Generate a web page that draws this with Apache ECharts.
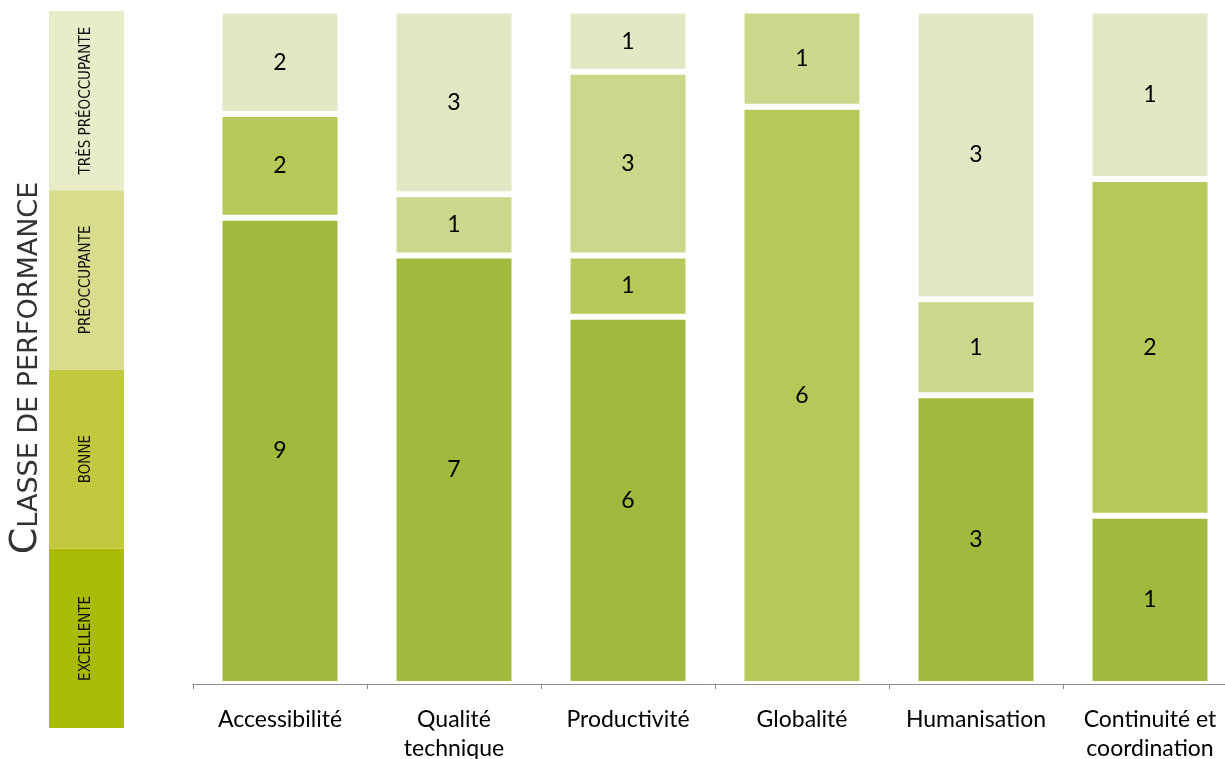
<!DOCTYPE html>
<html>
<head>
<meta charset="utf-8">
<script src="https://cdn.jsdelivr.net/npm/echarts@6/dist/echarts.min.js"></script>
<style>
  html, body { margin: 0; padding: 0; background: #fff; }
  #chart { width: 1225px; height: 759px; }
</style>
</head>
<body>
<div id="chart"></div>
<script>
// criteres evalues (axe des x)
const categories = ['Accessibilité', 'Qualité\ntechnique', 'Productivité', 'Globalité', 'Humanisation', 'Continuité et\ncoordination'];

// nombre d'indicateurs par classe de performance
const excellente = [9, 7, 6, 0, 3, 1];
const bonne = [2, 0, 1, 6, 0, 2];
const preoccupante = [0, 1, 3, 1, 1, 0];
const tresPreoccupante = [2, 3, 1, 0, 3, 1];

// classes, du bas vers le haut
const classes = ['Excellente', 'Bonne', 'Préoccupante', 'Très préoccupante'];
const classLabels = ['EXCELLENTE', 'BONNE', 'PRÉOCCUPANTE', 'TRÈS PRÉOCCUPANTE'];
const legendValues = [1, 1, 1, 1];

const barColors = ['#9fba3d', '#b8c858', '#ccd78c', '#e3e8c4'];
const legendColors = ['#a9bb06', '#c2c93f', '#d8dc8d', '#e9ecc8'];

const chart = echarts.init(document.getElementById('chart'));

const rows = [excellente, bonne, preoccupante, tresPreoccupante];
const totals = categories.map((c, i) => rows.reduce((s, r) => s + r[i], 0));

// empilement en pourcentage, on garde la valeur brute pour l'etiquette
const barSeries = rows.map((row, k) => ({
  name: classes[k],
  type: 'bar',
  stack: 'classe',
  xAxisIndex: 0,
  yAxisIndex: 0,
  barWidth: 121,
  data: row.map((v, i) => (v > 0 ? { value: v / totals[i], raw: v } : '-')),
  itemStyle: { color: barColors[k], borderColor: '#fff', borderWidth: 3 },
  label: {
    show: true,
    position: 'inside',
    color: '#000',
    fontFamily: 'Lato',
    fontSize: 23,
    formatter: p => String(p.data.raw)
  }
}));

const legendSeries = classes.map((name, k) => ({
  name: 'legende-' + name,
  type: 'bar',
  stack: 'legende',
  xAxisIndex: 1,
  yAxisIndex: 1,
  barWidth: '100%',
  data: [legendValues[k]],
  itemStyle: { color: legendColors[k] },
  label: {
    show: true,
    position: 'inside',
    rotate: 90,
    color: '#111',
    fontFamily: 'DejaVu Sans Condensed',
    fontSize: 15,
    formatter: () => classLabels[k]
  }
}));

chart.setOption({
  backgroundColor: '#fff',
  animation: false,
  grid: [
    { left: 193, width: 1044, top: 10.5, height: 673.5, outerBoundsMode: 'none' },
    { left: 49, width: 75, top: 11, height: 717, outerBoundsMode: 'none' }
  ],
  xAxis: [
    {
      type: 'category',
      gridIndex: 0,
      data: categories,
      axisLine: { lineStyle: { color: '#8c8c8c', width: 1 } },
      axisTick: { show: true, length: 5, lineStyle: { color: '#8c8c8c' } },
      axisLabel: {
        interval: 0,
        margin: 21,
        color: '#000',
        fontFamily: 'Lato',
        fontSize: 23,
        lineHeight: 29
      }
    },
    { type: 'category', gridIndex: 1, data: ['classe'], show: false }
  ],
  yAxis: [
    { type: 'value', gridIndex: 0, min: 0, max: 1, show: false },
    { type: 'value', gridIndex: 1, min: 0, max: 4, show: false }
  ],
  graphic: [{
    type: 'text',
    x: 26,
    y: 368,
    rotation: Math.PI / 2,
    style: {
      text: '{big|C}{small|LASSE DE PERFORMANCE}',
      align: 'center',
      verticalAlign: 'middle',
      fill: '#333',
      rich: {
        big: { fontFamily: 'DejaVu Sans', fontSize: 38, lineHeight: 38, verticalAlign: 'bottom', fill: '#333' },
        small: { fontFamily: 'DejaVu Sans', fontSize: 27, lineHeight: 38, verticalAlign: 'bottom', fill: '#333', padding: [0, 0, 2, 0] }
      }
    }
  }],
  series: barSeries.concat(legendSeries)
});
</script>
</body>
</html>
